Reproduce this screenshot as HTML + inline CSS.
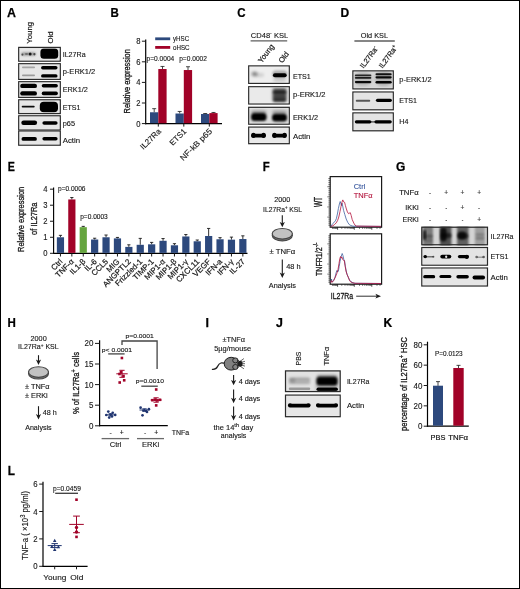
<!DOCTYPE html>
<html lang="en"><head><meta charset="utf-8"><title>Figure</title>
<style>html,body{margin:0;padding:0;background:#fff}body{width:520px;height:589px;overflow:hidden;position:relative}svg{display:block}svg text{font-family:"Liberation Sans",sans-serif;fill:#161616;stroke:#161616;stroke-width:.12px}</style></head><body>
<svg width="520" height="589" viewBox="0 0 520 589">
<defs>
<filter id="b3" x="-30%" y="-60%" width="160%" height="220%"><feGaussianBlur stdDeviation="0.3"/></filter>
<filter id="b5" x="-30%" y="-60%" width="160%" height="220%"><feGaussianBlur stdDeviation="0.5"/></filter>
<filter id="b7" x="-30%" y="-60%" width="160%" height="220%"><feGaussianBlur stdDeviation="0.7"/></filter>
<filter id="b10" x="-30%" y="-60%" width="160%" height="220%"><feGaussianBlur stdDeviation="1"/></filter>
<filter id="b14" x="-30%" y="-60%" width="160%" height="220%"><feGaussianBlur stdDeviation="1.4"/></filter>
<filter id="b20" x="-30%" y="-60%" width="160%" height="220%"><feGaussianBlur stdDeviation="2"/></filter>
</defs>
<rect x="0.00" y="0.00" width="520.00" height="589.00" fill="#fff"/>
<rect x="0.5" y="0.5" width="519" height="588" fill="none" stroke="#000" stroke-width="1"/>
<text transform="translate(7.10 16.90)" font-size="12.4" font-weight="bold" style="fill:#000;stroke:#000;stroke-width:0.25px;">A</text>
<text transform="translate(110.60 16.90) scale(0.93 1)" font-size="12.4" font-weight="bold" style="fill:#000;stroke:#000;stroke-width:0.25px;">B</text>
<text transform="translate(237.30 17.20) scale(0.93 1)" font-size="12.4" font-weight="bold" style="fill:#000;stroke:#000;stroke-width:0.25px;">C</text>
<text transform="translate(340.60 17.20) scale(0.97 1)" font-size="12.4" font-weight="bold" style="fill:#000;stroke:#000;stroke-width:0.25px;">D</text>
<text transform="translate(7.70 170.70) scale(0.86 1)" font-size="12.4" font-weight="bold" style="fill:#000;stroke:#000;stroke-width:0.25px;">E</text>
<text transform="translate(262.80 171.20) scale(0.92 1)" font-size="12.4" font-weight="bold" style="fill:#000;stroke:#000;stroke-width:0.25px;">F</text>
<text transform="translate(396.00 171.20) scale(0.97 1)" font-size="12.4" font-weight="bold" style="fill:#000;stroke:#000;stroke-width:0.25px;">G</text>
<text transform="translate(7.60 326.80) scale(0.93 1)" font-size="12.4" font-weight="bold" style="fill:#000;stroke:#000;stroke-width:0.25px;">H</text>
<text transform="translate(205.60 326.80)" font-size="12.4" font-weight="bold" style="fill:#000;stroke:#000;stroke-width:0.25px;">I</text>
<text transform="translate(276.00 326.80)" font-size="12.4" font-weight="bold" style="fill:#000;stroke:#000;stroke-width:0.25px;">J</text>
<text transform="translate(383.60 326.80) scale(0.97 1)" font-size="12.4" font-weight="bold" style="fill:#000;stroke:#000;stroke-width:0.25px;">K</text>
<text transform="translate(7.80 474.50) scale(0.95 1)" font-size="12.4" font-weight="bold" style="fill:#000;stroke:#000;stroke-width:0.25px;">L</text>
<text transform="translate(31.70 43.70) rotate(-90)" font-size="7.8" style="stroke-width:0.2px;">Young</text>
<text transform="translate(53.30 43.50) rotate(-90)" font-size="7.8" style="stroke-width:0.2px;">Old</text>
<svg x="18.10" y="46.80" width="42.80" height="15.00" viewBox="18.10 46.80 42.80 15.00">
<rect x="18.10" y="46.80" width="42.80" height="15.00" fill="#e6e6e6"/>
<rect x="21.25" y="52.60" width="14.50" height="3.00" rx="1.50" fill="#000" opacity="0.38" filter="url(#b10)"/>
<rect x="28.60" y="52.40" width="3.00" height="3.00" rx="1.50" fill="#000" opacity="0.85" filter="url(#b7)"/>
<rect x="21.40" y="53.40" width="2.00" height="2.40" rx="1.00" fill="#000" opacity="0.55" filter="url(#b7)"/>
<rect x="33.30" y="53.00" width="2.20" height="2.40" rx="1.10" fill="#000" opacity="0.6" filter="url(#b7)"/>
<rect x="25.00" y="53.00" width="3.00" height="2.00" rx="1.00" fill="#000" opacity="0.3" filter="url(#b7)"/>
<rect x="40.40" y="48.60" width="17.80" height="10.20" rx="3.50" fill="#000" opacity="1" filter="url(#b7)"/>
</svg>
<rect x="18.72" y="47.42" width="41.55" height="13.75" fill="none" stroke="#2b2b2b" stroke-width="1.25"/>
<rect x="19.65" y="48.35" width="39.70" height="11.90" fill="none" stroke="#f4f4f4" stroke-width="0.6" opacity="0.45"/>
<svg x="18.10" y="63.10" width="42.80" height="16.90" viewBox="18.10 63.10 42.80 16.90">
<rect x="18.10" y="63.10" width="42.80" height="16.90" fill="#e6e6e6"/>
<rect x="22.00" y="66.60" width="13.00" height="1.60" rx="0.80" fill="#000" opacity="0.28" filter="url(#b7)"/>
<rect x="22.00" y="74.40" width="13.00" height="1.80" rx="0.90" fill="#000" opacity="0.32" filter="url(#b7)"/>
<rect x="41.05" y="66.00" width="16.50" height="3.60" rx="1.80" fill="#000" opacity="1" filter="url(#b5)"/>
<rect x="41.05" y="74.20" width="16.50" height="3.40" rx="1.70" fill="#000" opacity="1" filter="url(#b5)"/>
</svg>
<rect x="18.72" y="63.72" width="41.55" height="15.65" fill="none" stroke="#2b2b2b" stroke-width="1.25"/>
<rect x="19.65" y="64.65" width="39.70" height="13.80" fill="none" stroke="#f4f4f4" stroke-width="0.6" opacity="0.45"/>
<svg x="18.10" y="81.10" width="42.80" height="16.90" viewBox="18.10 81.10 42.80 16.90">
<rect x="18.10" y="81.10" width="42.80" height="16.90" fill="#e6e6e6"/>
<rect x="20.20" y="83.70" width="16.80" height="4.40" rx="2.20" fill="#000" opacity="1" filter="url(#b7)"/>
<rect x="20.20" y="91.20" width="16.80" height="4.40" rx="2.20" fill="#000" opacity="1" filter="url(#b7)"/>
<rect x="41.70" y="84.00" width="16.20" height="3.60" rx="1.80" fill="#000" opacity="1" filter="url(#b7)"/>
<rect x="41.70" y="91.60" width="16.20" height="3.60" rx="1.80" fill="#000" opacity="1" filter="url(#b7)"/>
</svg>
<rect x="18.72" y="81.72" width="41.55" height="15.65" fill="none" stroke="#2b2b2b" stroke-width="1.25"/>
<rect x="19.65" y="82.65" width="39.70" height="13.80" fill="none" stroke="#f4f4f4" stroke-width="0.6" opacity="0.45"/>
<svg x="18.10" y="99.20" width="42.80" height="15.00" viewBox="18.10 99.20 42.80 15.00">
<rect x="18.10" y="99.20" width="42.80" height="15.00" fill="#e6e6e6"/>
<rect x="21.70" y="105.75" width="13.00" height="1.70" rx="0.85" fill="#000" opacity="0.95" filter="url(#b5)"/>
<rect x="39.80" y="101.70" width="18.20" height="10.60" rx="4.00" fill="#000" opacity="1" filter="url(#b7)"/>
</svg>
<rect x="18.72" y="99.82" width="41.55" height="13.75" fill="none" stroke="#2b2b2b" stroke-width="1.25"/>
<rect x="19.65" y="100.75" width="39.70" height="11.90" fill="none" stroke="#f4f4f4" stroke-width="0.6" opacity="0.45"/>
<svg x="18.10" y="115.20" width="42.80" height="15.40" viewBox="18.10 115.20 42.80 15.40">
<rect x="18.10" y="115.20" width="42.80" height="15.40" fill="#e6e6e6"/>
<rect x="21.30" y="120.50" width="15.80" height="4.60" rx="2.30" fill="#000" opacity="1" filter="url(#b7)"/>
<rect x="42.40" y="121.20" width="15.20" height="3.60" rx="1.80" fill="#000" opacity="1" filter="url(#b7)"/>
</svg>
<rect x="18.72" y="115.82" width="41.55" height="14.15" fill="none" stroke="#2b2b2b" stroke-width="1.25"/>
<rect x="19.65" y="116.75" width="39.70" height="12.30" fill="none" stroke="#f4f4f4" stroke-width="0.6" opacity="0.45"/>
<svg x="18.10" y="130.40" width="42.80" height="15.40" viewBox="18.10 130.40 42.80 15.40">
<rect x="18.10" y="130.40" width="42.80" height="15.40" fill="#e6e6e6"/>
<rect x="21.50" y="137.00" width="15.40" height="3.80" rx="1.90" fill="#000" opacity="1" filter="url(#b7)"/>
<rect x="42.40" y="137.10" width="15.20" height="3.40" rx="1.70" fill="#000" opacity="1" filter="url(#b7)"/>
</svg>
<rect x="18.72" y="131.02" width="41.55" height="14.15" fill="none" stroke="#2b2b2b" stroke-width="1.25"/>
<rect x="19.65" y="131.95" width="39.70" height="12.30" fill="none" stroke="#f4f4f4" stroke-width="0.6" opacity="0.45"/>
<text transform="translate(62.70 56.80)" font-size="7.1">IL27Ra</text>
<text transform="translate(62.70 73.70) scale(1.06 1)" font-size="7.1">p-ERK1/2</text>
<text transform="translate(62.70 91.90) scale(1.03 1)" font-size="7.1">ERK1/2</text>
<text transform="translate(62.70 109.70)" font-size="7.1">ETS1</text>
<text transform="translate(62.70 125.60) scale(1.04 1)" font-size="7.1">p65</text>
<text transform="translate(62.70 143.00) scale(1.1 1)" font-size="7.1">Actin</text>
<line x1="145.70" y1="39.50" x2="145.70" y2="124.20" stroke="#000" stroke-width="1.2"/>
<line x1="145.10" y1="123.60" x2="222.00" y2="123.60" stroke="#000" stroke-width="1.2"/>
<line x1="141.90" y1="123.60" x2="145.70" y2="123.60" stroke="#1a1a1a" stroke-width="1"/>
<text transform="translate(140.60 126.60) scale(0.9 1)" font-size="8.5" text-anchor="end">0</text>
<line x1="141.90" y1="103.00" x2="145.70" y2="103.00" stroke="#1a1a1a" stroke-width="1"/>
<text transform="translate(140.60 106.00) scale(0.9 1)" font-size="8.5" text-anchor="end">2</text>
<line x1="141.90" y1="82.40" x2="145.70" y2="82.40" stroke="#1a1a1a" stroke-width="1"/>
<text transform="translate(140.60 85.40) scale(0.9 1)" font-size="8.5" text-anchor="end">4</text>
<line x1="141.90" y1="61.80" x2="145.70" y2="61.80" stroke="#1a1a1a" stroke-width="1"/>
<text transform="translate(140.60 64.80) scale(0.9 1)" font-size="8.5" text-anchor="end">6</text>
<line x1="141.90" y1="41.20" x2="145.70" y2="41.20" stroke="#1a1a1a" stroke-width="1"/>
<text transform="translate(140.60 44.20) scale(0.9 1)" font-size="8.5" text-anchor="end">8</text>
<line x1="154.20" y1="108.66" x2="154.20" y2="112.27" stroke="#1a1a1a" stroke-width="0.8"/>
<line x1="152.20" y1="108.66" x2="156.20" y2="108.66" stroke="#1a1a1a" stroke-width="0.8"/>
<line x1="162.50" y1="66.44" x2="162.50" y2="69.01" stroke="#1a1a1a" stroke-width="0.8"/>
<line x1="160.50" y1="66.44" x2="164.50" y2="66.44" stroke="#1a1a1a" stroke-width="0.8"/>
<rect x="150.00" y="112.27" width="8.30" height="10.93" fill="#2d497d"/>
<rect x="158.30" y="69.01" width="8.30" height="54.19" fill="#a10228"/>
<line x1="158.30" y1="123.60" x2="158.30" y2="126.60" stroke="#1a1a1a" stroke-width="1"/>
<line x1="179.70" y1="111.45" x2="179.70" y2="113.51" stroke="#1a1a1a" stroke-width="0.8"/>
<line x1="177.70" y1="111.45" x2="181.70" y2="111.45" stroke="#1a1a1a" stroke-width="0.8"/>
<line x1="188.00" y1="66.74" x2="188.00" y2="70.04" stroke="#1a1a1a" stroke-width="0.8"/>
<line x1="186.00" y1="66.74" x2="190.00" y2="66.74" stroke="#1a1a1a" stroke-width="0.8"/>
<rect x="175.50" y="113.51" width="8.30" height="9.69" fill="#2d497d"/>
<rect x="183.80" y="70.04" width="8.30" height="53.16" fill="#a10228"/>
<line x1="183.80" y1="123.60" x2="183.80" y2="126.60" stroke="#1a1a1a" stroke-width="1"/>
<line x1="205.20" y1="113.51" x2="205.20" y2="114.02" stroke="#1a1a1a" stroke-width="0.8"/>
<line x1="203.20" y1="113.51" x2="207.20" y2="113.51" stroke="#1a1a1a" stroke-width="0.8"/>
<line x1="213.50" y1="112.48" x2="213.50" y2="113.09" stroke="#1a1a1a" stroke-width="0.8"/>
<line x1="211.50" y1="112.48" x2="215.50" y2="112.48" stroke="#1a1a1a" stroke-width="0.8"/>
<rect x="201.00" y="114.02" width="8.30" height="9.18" fill="#2d497d"/>
<rect x="209.30" y="113.09" width="8.30" height="10.11" fill="#a10228"/>
<line x1="209.30" y1="123.60" x2="209.30" y2="126.60" stroke="#1a1a1a" stroke-width="1"/>
<rect x="155.20" y="37.40" width="15.00" height="2.80" fill="#2d497d"/>
<text transform="translate(173.00 41.20) scale(0.94 1)" font-size="6.6">yHSC</text>
<rect x="155.20" y="46.00" width="15.00" height="2.80" fill="#a10228"/>
<text transform="translate(173.00 49.80) scale(0.94 1)" font-size="6.6">oHSC</text>
<text transform="translate(146.60 61.30)" font-size="6.6">p=0.0004</text>
<text transform="translate(179.20 61.30)" font-size="6.6">p=0.0002</text>
<text transform="translate(130.00 81.30) rotate(-90) scale(0.855 1)" font-size="8.6" text-anchor="middle" style="stroke-width:0.3px;">Relative expression</text>
<text transform="translate(161.60 131.80) rotate(-45)" font-size="8" text-anchor="end">IL27Ra</text>
<text transform="translate(187.00 131.80) rotate(-45)" font-size="8" text-anchor="end">ETS1</text>
<text transform="translate(212.60 131.80) rotate(-45) scale(1.09 1)" font-size="8" text-anchor="end">NF-kB p65</text>
<text transform="translate(250.80 37.80) scale(1.02 1)" font-size="7.4">CD48<tspan dy="-2.6" font-size="5">-</tspan><tspan dy="2.6"> KSL</tspan></text>
<line x1="250.60" y1="40.90" x2="287.20" y2="40.90" stroke="#5e5e5e" stroke-width="1.4"/>
<text transform="translate(261.70 63.60) rotate(-53)" font-size="7.6" style="stroke-width:0.2px;">Young</text>
<text transform="translate(282.20 63.60) rotate(-53)" font-size="7.6" style="stroke-width:0.2px;">Old</text>
<svg x="248.10" y="65.30" width="41.80" height="18.70" viewBox="248.10 65.30 41.80 18.70">
<rect x="248.10" y="65.30" width="41.80" height="18.70" fill="#eeeeee"/>
<rect x="251.50" y="71.80" width="6.00" height="4.40" rx="2.20" fill="#000" opacity="0.42" filter="url(#b14)"/>
<rect x="255.00" y="73.30" width="9.00" height="3.40" rx="1.70" fill="#000" opacity="0.14" filter="url(#b14)"/>
<rect x="272.90" y="73.30" width="13.80" height="4.00" rx="2.00" fill="#000" opacity="1" filter="url(#b7)"/>
<rect x="272.30" y="70.50" width="15.00" height="7.00" rx="3.50" fill="#000" opacity="0.28" filter="url(#b10)"/>
<rect x="273.30" y="77.00" width="13.00" height="5.00" rx="2.50" fill="#000" opacity="0.14" filter="url(#b14)"/>
</svg>
<rect x="248.72" y="65.92" width="40.55" height="17.45" fill="none" stroke="#2b2b2b" stroke-width="1.25"/>
<rect x="249.65" y="66.85" width="38.70" height="15.60" fill="none" stroke="#f4f4f4" stroke-width="0.6" opacity="0.45"/>
<svg x="248.10" y="86.10" width="41.80" height="18.50" viewBox="248.10 86.10 41.80 18.50">
<rect x="248.10" y="86.10" width="41.80" height="18.50" fill="#eaeaea"/>
<rect x="272.60" y="88.00" width="14.00" height="14.00" rx="2.00" fill="#000" opacity="0.6" filter="url(#b14)"/>
<rect x="272.85" y="90.30" width="13.50" height="4.00" rx="2.00" fill="#000" opacity="0.6" filter="url(#b10)"/>
<rect x="273.10" y="95.10" width="13.00" height="2.60" rx="1.30" fill="#000" opacity="0.35" filter="url(#b10)"/>
<rect x="273.10" y="98.10" width="13.00" height="3.40" rx="1.70" fill="#000" opacity="0.55" filter="url(#b10)"/>
</svg>
<rect x="248.72" y="86.72" width="40.55" height="17.25" fill="none" stroke="#2b2b2b" stroke-width="1.25"/>
<rect x="249.65" y="87.65" width="38.70" height="15.40" fill="none" stroke="#f4f4f4" stroke-width="0.6" opacity="0.45"/>
<svg x="248.10" y="106.70" width="41.80" height="18.10" viewBox="248.10 106.70 41.80 18.10">
<rect x="248.10" y="106.70" width="41.80" height="18.10" fill="#dcdcdc"/>
<rect x="251.05" y="112.90" width="15.50" height="8.20" rx="3.50" fill="#000" opacity="1" filter="url(#b10)"/>
<rect x="272.00" y="113.80" width="15.00" height="7.60" rx="3.50" fill="#000" opacity="1" filter="url(#b10)"/>
<rect x="251.30" y="110.40" width="15.00" height="4.00" rx="2.00" fill="#000" opacity="0.3" filter="url(#b14)"/>
<rect x="272.25" y="110.60" width="14.50" height="4.00" rx="2.00" fill="#000" opacity="0.3" filter="url(#b14)"/>
</svg>
<rect x="248.72" y="107.32" width="40.55" height="16.85" fill="none" stroke="#2b2b2b" stroke-width="1.25"/>
<rect x="249.65" y="108.25" width="38.70" height="15.00" fill="none" stroke="#f4f4f4" stroke-width="0.6" opacity="0.45"/>
<svg x="248.10" y="126.50" width="41.80" height="17.80" viewBox="248.10 126.50 41.80 17.80">
<rect x="248.10" y="126.50" width="41.80" height="17.80" fill="#e9e9e9"/>
<rect x="251.10" y="133.70" width="14.80" height="3.80" rx="1.90" fill="#000" opacity="1" filter="url(#b7)"/>
<rect x="272.30" y="133.70" width="14.40" height="3.80" rx="1.90" fill="#000" opacity="1" filter="url(#b7)"/>
<rect x="251.20" y="132.70" width="4.40" height="5.20" rx="2.20" fill="#000" opacity="1" filter="url(#b7)"/>
<rect x="261.40" y="132.70" width="4.40" height="5.20" rx="2.20" fill="#000" opacity="1" filter="url(#b7)"/>
<rect x="272.20" y="132.70" width="4.40" height="5.20" rx="2.20" fill="#000" opacity="1" filter="url(#b7)"/>
<rect x="282.40" y="132.70" width="4.40" height="5.20" rx="2.20" fill="#000" opacity="1" filter="url(#b7)"/>
</svg>
<rect x="248.72" y="127.12" width="40.55" height="16.55" fill="none" stroke="#2b2b2b" stroke-width="1.25"/>
<rect x="249.65" y="128.05" width="38.70" height="14.70" fill="none" stroke="#f4f4f4" stroke-width="0.6" opacity="0.45"/>
<text transform="translate(293.00 78.60)" font-size="7.1">ETS1</text>
<text transform="translate(293.00 97.10) scale(1.06 1)" font-size="7.1">p-ERK1/2</text>
<text transform="translate(293.00 120.30) scale(1.03 1)" font-size="7.1">ERK1/2</text>
<text transform="translate(293.00 138.90) scale(1.1 1)" font-size="7.1">Actin</text>
<text transform="translate(360.80 37.80)" font-size="7.3">Old KSL</text>
<line x1="354.40" y1="41.00" x2="394.80" y2="41.00" stroke="#5e5e5e" stroke-width="1.4"/>
<text transform="translate(363.60 68.80) rotate(-54) scale(0.98 1)" font-size="7.4" style="stroke-width:0.2px;">IL27Ra<tspan dy="-2.6" font-size="5.4">-</tspan></text>
<text transform="translate(382.40 68.80) rotate(-54) scale(0.98 1)" font-size="7.4" style="stroke-width:0.2px;">IL27Ra<tspan dy="-2.6" font-size="5.4">+</tspan></text>
<svg x="352.30" y="70.30" width="41.60" height="19.20" viewBox="352.30 70.30 41.60 19.20">
<rect x="352.30" y="70.30" width="41.60" height="19.20" fill="#d6d6d6"/>
<rect x="354.25" y="72.00" width="17.50" height="14.00" rx="7.00" fill="#000" opacity="0.14" filter="url(#b14)"/>
<rect x="374.85" y="71.00" width="17.50" height="15.00" rx="7.50" fill="#000" opacity="0.18" filter="url(#b14)"/>
<rect x="354.85" y="74.55" width="16.50" height="1.70" rx="0.85" fill="#000" opacity="0.8" filter="url(#b7)"/>
<rect x="354.85" y="76.95" width="16.50" height="1.70" rx="0.85" fill="#000" opacity="0.85" filter="url(#b7)"/>
<rect x="354.85" y="81.00" width="16.50" height="2.20" rx="1.10" fill="#000" opacity="0.95" filter="url(#b7)"/>
<rect x="375.50" y="73.20" width="16.20" height="2.00" rx="1.00" fill="#000" opacity="0.9" filter="url(#b7)"/>
<rect x="375.50" y="76.20" width="16.20" height="2.20" rx="1.10" fill="#000" opacity="0.95" filter="url(#b7)"/>
<rect x="375.50" y="81.00" width="16.20" height="2.60" rx="1.30" fill="#000" opacity="1" filter="url(#b7)"/>
</svg>
<rect x="352.92" y="70.92" width="40.35" height="17.95" fill="none" stroke="#2b2b2b" stroke-width="1.25"/>
<rect x="353.85" y="71.85" width="38.50" height="16.10" fill="none" stroke="#f4f4f4" stroke-width="0.6" opacity="0.45"/>
<svg x="352.30" y="91.40" width="41.60" height="19.00" viewBox="352.30 91.40 41.60 19.00">
<rect x="352.30" y="91.40" width="41.60" height="19.00" fill="#e4e4e4"/>
<rect x="355.75" y="99.75" width="14.50" height="1.90" rx="0.95" fill="#000" opacity="0.62" filter="url(#b7)"/>
<rect x="375.90" y="98.70" width="16.00" height="3.20" rx="1.60" fill="#000" opacity="1" filter="url(#b7)"/>
</svg>
<rect x="352.92" y="92.02" width="40.35" height="17.75" fill="none" stroke="#2b2b2b" stroke-width="1.25"/>
<rect x="353.85" y="92.95" width="38.50" height="15.90" fill="none" stroke="#f4f4f4" stroke-width="0.6" opacity="0.45"/>
<svg x="352.30" y="112.30" width="41.60" height="19.10" viewBox="352.30 112.30 41.60 19.10">
<rect x="352.30" y="112.30" width="41.60" height="19.10" fill="#e4e4e4"/>
<rect x="354.80" y="120.20" width="16.60" height="3.20" rx="1.60" fill="#000" opacity="1" filter="url(#b7)"/>
<rect x="374.40" y="120.20" width="17.40" height="3.20" rx="1.60" fill="#000" opacity="1" filter="url(#b7)"/>
<rect x="370.50" y="121.10" width="5.00" height="1.60" rx="0.80" fill="#000" opacity="0.5" filter="url(#b7)"/>
</svg>
<rect x="352.92" y="112.92" width="40.35" height="17.85" fill="none" stroke="#2b2b2b" stroke-width="1.25"/>
<rect x="353.85" y="113.85" width="38.50" height="16.00" fill="none" stroke="#f4f4f4" stroke-width="0.6" opacity="0.45"/>
<text transform="translate(399.30 82.20) scale(1.05 1)" font-size="7.1">p-ERK1/2</text>
<text transform="translate(399.30 103.30)" font-size="7.1">ETS1</text>
<text transform="translate(399.30 124.20)" font-size="7.1">H4</text>
<line x1="53.60" y1="187.50" x2="53.60" y2="253.90" stroke="#000" stroke-width="1.15"/>
<line x1="53.00" y1="253.30" x2="247.50" y2="253.30" stroke="#000" stroke-width="1.15"/>
<line x1="50.00" y1="253.30" x2="53.60" y2="253.30" stroke="#1a1a1a" stroke-width="1"/>
<text transform="translate(47.60 256.30) scale(0.9 1)" font-size="8.5" text-anchor="end">0</text>
<line x1="50.00" y1="237.27" x2="53.60" y2="237.27" stroke="#1a1a1a" stroke-width="1"/>
<text transform="translate(47.60 240.27) scale(0.9 1)" font-size="8.5" text-anchor="end">1</text>
<line x1="50.00" y1="221.24" x2="53.60" y2="221.24" stroke="#1a1a1a" stroke-width="1"/>
<text transform="translate(47.60 224.24) scale(0.9 1)" font-size="8.5" text-anchor="end">2</text>
<line x1="50.00" y1="205.21" x2="53.60" y2="205.21" stroke="#1a1a1a" stroke-width="1"/>
<text transform="translate(47.60 208.21) scale(0.9 1)" font-size="8.5" text-anchor="end">3</text>
<line x1="50.00" y1="189.18" x2="53.60" y2="189.18" stroke="#1a1a1a" stroke-width="1"/>
<text transform="translate(47.60 192.18) scale(0.9 1)" font-size="8.5" text-anchor="end">4</text>
<line x1="60.45" y1="235.35" x2="60.45" y2="237.27" stroke="#1a1a1a" stroke-width="0.9"/>
<line x1="58.85" y1="235.35" x2="62.05" y2="235.35" stroke="#1a1a1a" stroke-width="0.9"/>
<rect x="56.85" y="237.27" width="7.20" height="15.63" fill="#2d497d"/>
<line x1="60.45" y1="253.30" x2="60.45" y2="256.50" stroke="#1a1a1a" stroke-width="1"/>
<text transform="translate(63.05 262.10) rotate(-45)" font-size="7.9" text-anchor="end" style="stroke-width:0.2px;">Ctrl</text>
<line x1="71.85" y1="197.52" x2="71.85" y2="199.44" stroke="#1a1a1a" stroke-width="0.9"/>
<line x1="70.25" y1="197.52" x2="73.45" y2="197.52" stroke="#1a1a1a" stroke-width="0.9"/>
<rect x="68.25" y="199.44" width="7.20" height="53.46" fill="#a10228"/>
<line x1="71.85" y1="253.30" x2="71.85" y2="256.50" stroke="#1a1a1a" stroke-width="1"/>
<text transform="translate(74.45 262.10) rotate(-45)" font-size="7.9" text-anchor="end" style="stroke-width:0.2px;">TNF-α</text>
<line x1="83.25" y1="226.37" x2="83.25" y2="227.17" stroke="#1a1a1a" stroke-width="0.9"/>
<line x1="81.65" y1="226.37" x2="84.85" y2="226.37" stroke="#1a1a1a" stroke-width="0.9"/>
<rect x="79.65" y="227.17" width="7.20" height="25.73" fill="#66a53f"/>
<line x1="83.25" y1="253.30" x2="83.25" y2="256.50" stroke="#1a1a1a" stroke-width="1"/>
<text transform="translate(85.85 262.10) rotate(-45)" font-size="7.9" text-anchor="end" style="stroke-width:0.2px;">IL1-β</text>
<line x1="94.65" y1="238.23" x2="94.65" y2="239.51" stroke="#1a1a1a" stroke-width="0.9"/>
<line x1="93.05" y1="238.23" x2="96.25" y2="238.23" stroke="#1a1a1a" stroke-width="0.9"/>
<rect x="91.05" y="239.51" width="7.20" height="13.39" fill="#2d497d"/>
<line x1="94.65" y1="253.30" x2="94.65" y2="256.50" stroke="#1a1a1a" stroke-width="1"/>
<text transform="translate(97.25 262.10) rotate(-45)" font-size="7.9" text-anchor="end" style="stroke-width:0.2px;">IL-6</text>
<line x1="106.05" y1="235.03" x2="106.05" y2="237.27" stroke="#1a1a1a" stroke-width="0.9"/>
<line x1="104.45" y1="235.03" x2="107.65" y2="235.03" stroke="#1a1a1a" stroke-width="0.9"/>
<rect x="102.45" y="237.27" width="7.20" height="15.63" fill="#2d497d"/>
<line x1="106.05" y1="253.30" x2="106.05" y2="256.50" stroke="#1a1a1a" stroke-width="1"/>
<text transform="translate(108.65 262.10) rotate(-45)" font-size="7.9" text-anchor="end" style="stroke-width:0.2px;">CCL5</text>
<line x1="117.45" y1="237.43" x2="117.45" y2="238.39" stroke="#1a1a1a" stroke-width="0.9"/>
<line x1="115.85" y1="237.43" x2="119.05" y2="237.43" stroke="#1a1a1a" stroke-width="0.9"/>
<rect x="113.85" y="238.39" width="7.20" height="14.51" fill="#2d497d"/>
<line x1="117.45" y1="253.30" x2="117.45" y2="256.50" stroke="#1a1a1a" stroke-width="1"/>
<text transform="translate(120.05 262.10) rotate(-45)" font-size="7.9" text-anchor="end" style="stroke-width:0.2px;">MIG</text>
<line x1="128.85" y1="244.80" x2="128.85" y2="246.89" stroke="#1a1a1a" stroke-width="0.9"/>
<line x1="127.25" y1="244.80" x2="130.45" y2="244.80" stroke="#1a1a1a" stroke-width="0.9"/>
<rect x="125.25" y="246.89" width="7.20" height="6.01" fill="#2d497d"/>
<line x1="128.85" y1="253.30" x2="128.85" y2="256.50" stroke="#1a1a1a" stroke-width="1"/>
<text transform="translate(131.45 262.10) rotate(-45)" font-size="7.9" text-anchor="end" style="stroke-width:0.2px;">ANGPTL2</text>
<line x1="140.25" y1="238.39" x2="140.25" y2="244.80" stroke="#1a1a1a" stroke-width="0.9"/>
<line x1="138.65" y1="238.39" x2="141.85" y2="238.39" stroke="#1a1a1a" stroke-width="0.9"/>
<rect x="136.65" y="244.80" width="7.20" height="8.10" fill="#2d497d"/>
<line x1="140.25" y1="253.30" x2="140.25" y2="256.50" stroke="#1a1a1a" stroke-width="1"/>
<text transform="translate(142.85 262.10) rotate(-45)" font-size="7.9" text-anchor="end" style="stroke-width:0.2px;">Frizzled-1</text>
<line x1="151.65" y1="242.40" x2="151.65" y2="244.32" stroke="#1a1a1a" stroke-width="0.9"/>
<line x1="150.05" y1="242.40" x2="153.25" y2="242.40" stroke="#1a1a1a" stroke-width="0.9"/>
<rect x="148.05" y="244.32" width="7.20" height="8.58" fill="#2d497d"/>
<line x1="151.65" y1="253.30" x2="151.65" y2="256.50" stroke="#1a1a1a" stroke-width="1"/>
<text transform="translate(154.25 262.10) rotate(-45)" font-size="7.9" text-anchor="end" style="stroke-width:0.2px;">TIMP-1</text>
<line x1="163.05" y1="238.55" x2="163.05" y2="240.80" stroke="#1a1a1a" stroke-width="0.9"/>
<line x1="161.45" y1="238.55" x2="164.65" y2="238.55" stroke="#1a1a1a" stroke-width="0.9"/>
<rect x="159.45" y="240.80" width="7.20" height="12.10" fill="#2d497d"/>
<line x1="163.05" y1="253.30" x2="163.05" y2="256.50" stroke="#1a1a1a" stroke-width="1"/>
<text transform="translate(165.65 262.10) rotate(-45)" font-size="7.9" text-anchor="end" style="stroke-width:0.2px;">MIP1-α</text>
<line x1="174.45" y1="243.68" x2="174.45" y2="245.29" stroke="#1a1a1a" stroke-width="0.9"/>
<line x1="172.85" y1="243.68" x2="176.05" y2="243.68" stroke="#1a1a1a" stroke-width="0.9"/>
<rect x="170.85" y="245.29" width="7.20" height="7.61" fill="#2d497d"/>
<line x1="174.45" y1="253.30" x2="174.45" y2="256.50" stroke="#1a1a1a" stroke-width="1"/>
<text transform="translate(177.05 262.10) rotate(-45)" font-size="7.9" text-anchor="end" style="stroke-width:0.2px;">MIP1-β</text>
<line x1="185.85" y1="234.54" x2="185.85" y2="236.47" stroke="#1a1a1a" stroke-width="0.9"/>
<line x1="184.25" y1="234.54" x2="187.45" y2="234.54" stroke="#1a1a1a" stroke-width="0.9"/>
<rect x="182.25" y="236.47" width="7.20" height="16.43" fill="#2d497d"/>
<line x1="185.85" y1="253.30" x2="185.85" y2="256.50" stroke="#1a1a1a" stroke-width="1"/>
<text transform="translate(188.45 262.10) rotate(-45)" font-size="7.9" text-anchor="end" style="stroke-width:0.2px;">MIP1-γ</text>
<line x1="197.25" y1="240.00" x2="197.25" y2="241.28" stroke="#1a1a1a" stroke-width="0.9"/>
<line x1="195.65" y1="240.00" x2="198.85" y2="240.00" stroke="#1a1a1a" stroke-width="0.9"/>
<rect x="193.65" y="241.28" width="7.20" height="11.62" fill="#2d497d"/>
<line x1="197.25" y1="253.30" x2="197.25" y2="256.50" stroke="#1a1a1a" stroke-width="1"/>
<text transform="translate(199.85 262.10) rotate(-45)" font-size="7.9" text-anchor="end" style="stroke-width:0.2px;">CXCL11</text>
<line x1="208.65" y1="228.45" x2="208.65" y2="235.99" stroke="#1a1a1a" stroke-width="0.9"/>
<line x1="207.05" y1="228.45" x2="210.25" y2="228.45" stroke="#1a1a1a" stroke-width="0.9"/>
<rect x="205.05" y="235.99" width="7.20" height="16.91" fill="#2d497d"/>
<line x1="208.65" y1="253.30" x2="208.65" y2="256.50" stroke="#1a1a1a" stroke-width="1"/>
<text transform="translate(211.25 262.10) rotate(-45)" font-size="7.9" text-anchor="end" style="stroke-width:0.2px;">VEGF</text>
<line x1="220.05" y1="237.67" x2="220.05" y2="239.27" stroke="#1a1a1a" stroke-width="0.9"/>
<line x1="218.45" y1="237.67" x2="221.65" y2="237.67" stroke="#1a1a1a" stroke-width="0.9"/>
<rect x="216.45" y="239.27" width="7.20" height="13.63" fill="#2d497d"/>
<line x1="220.05" y1="253.30" x2="220.05" y2="256.50" stroke="#1a1a1a" stroke-width="1"/>
<text transform="translate(222.65 262.10) rotate(-45)" font-size="7.9" text-anchor="end" style="stroke-width:0.2px;">IFN-a</text>
<line x1="231.45" y1="237.11" x2="231.45" y2="239.67" stroke="#1a1a1a" stroke-width="0.9"/>
<line x1="229.85" y1="237.11" x2="233.05" y2="237.11" stroke="#1a1a1a" stroke-width="0.9"/>
<rect x="227.85" y="239.67" width="7.20" height="13.23" fill="#2d497d"/>
<line x1="231.45" y1="253.30" x2="231.45" y2="256.50" stroke="#1a1a1a" stroke-width="1"/>
<text transform="translate(234.05 262.10) rotate(-45)" font-size="7.9" text-anchor="end" style="stroke-width:0.2px;">IFN-γ</text>
<line x1="242.85" y1="235.83" x2="242.85" y2="239.03" stroke="#1a1a1a" stroke-width="0.9"/>
<line x1="241.25" y1="235.83" x2="244.45" y2="235.83" stroke="#1a1a1a" stroke-width="0.9"/>
<rect x="239.25" y="239.03" width="7.20" height="13.87" fill="#2d497d"/>
<line x1="242.85" y1="253.30" x2="242.85" y2="256.50" stroke="#1a1a1a" stroke-width="1"/>
<text transform="translate(245.45 262.10) rotate(-45)" font-size="7.9" text-anchor="end" style="stroke-width:0.2px;">IL-27</text>
<text transform="translate(58.00 190.60) scale(1.01 1)" font-size="6.5">p=0.0006</text>
<text transform="translate(80.20 219.10) scale(1.01 1)" font-size="6.5">p=0.0003</text>
<text transform="translate(24.10 219.40) rotate(-90) scale(0.87 1)" font-size="8.6" text-anchor="middle" style="stroke-width:0.3px;">Relative expression</text>
<text transform="translate(37.20 218.70) rotate(-90) scale(0.87 1)" font-size="8.6" text-anchor="middle" style="stroke-width:0.3px;">of IL27Ra</text>
<text transform="translate(282.30 202.30) scale(1.02 1)" font-size="7.1" text-anchor="middle">2000</text>
<text transform="translate(282.60 211.80) scale(0.97 1)" font-size="7" text-anchor="middle">IL27Ra<tspan dy="-2.4" font-size="4.5">+</tspan><tspan dy="2.4"> KSL</tspan></text>
<line x1="282.30" y1="215.20" x2="282.30" y2="223.70" stroke="#1a1a1a" stroke-width="1.1"/>
<path d="M282.30 227.30 L279.70 221.90 L282.30 223.30 L284.90 221.90 Z" fill="#1a1a1a"/>
<ellipse cx="282.30" cy="235.30" rx="10.10" ry="5.50" fill="#7d7d7d" stroke="#454545" stroke-width="1.15"/>
<ellipse cx="282.30" cy="233.80" rx="10.10" ry="5.30" fill="#c2c2c2" stroke="#454545" stroke-width="1.15"/>
<text transform="translate(282.40 254.00) scale(1.09 1)" font-size="7.1" text-anchor="middle">± TNFα</text>
<line x1="282.30" y1="259.60" x2="282.30" y2="274.40" stroke="#1a1a1a" stroke-width="1.1"/>
<path d="M282.30 278.00 L279.70 272.60 L282.30 274.00 L284.90 272.60 Z" fill="#1a1a1a"/>
<text transform="translate(286.20 269.00) scale(1.04 1)" font-size="7.1">48 h</text>
<text transform="translate(282.40 287.80) scale(1.03 1)" font-size="7.1" text-anchor="middle">Analysis</text>
<rect x="330.20" y="176.60" width="51.40" height="50.60" fill="#fff" stroke="#1a1a1a" stroke-width="1.2"/>
<line x1="328.40" y1="178.62" x2="330.20" y2="178.62" stroke="#222" stroke-width="0.7"/>
<line x1="328.40" y1="180.65" x2="330.20" y2="180.65" stroke="#222" stroke-width="0.7"/>
<line x1="328.40" y1="182.67" x2="330.20" y2="182.67" stroke="#222" stroke-width="0.7"/>
<line x1="328.40" y1="184.70" x2="330.20" y2="184.70" stroke="#222" stroke-width="0.7"/>
<line x1="327.40" y1="186.72" x2="330.20" y2="186.72" stroke="#222" stroke-width="0.7"/>
<line x1="328.40" y1="188.74" x2="330.20" y2="188.74" stroke="#222" stroke-width="0.7"/>
<line x1="328.40" y1="190.77" x2="330.20" y2="190.77" stroke="#222" stroke-width="0.7"/>
<line x1="328.40" y1="192.79" x2="330.20" y2="192.79" stroke="#222" stroke-width="0.7"/>
<line x1="328.40" y1="194.82" x2="330.20" y2="194.82" stroke="#222" stroke-width="0.7"/>
<line x1="327.40" y1="196.84" x2="330.20" y2="196.84" stroke="#222" stroke-width="0.7"/>
<line x1="328.40" y1="198.86" x2="330.20" y2="198.86" stroke="#222" stroke-width="0.7"/>
<line x1="328.40" y1="200.89" x2="330.20" y2="200.89" stroke="#222" stroke-width="0.7"/>
<line x1="328.40" y1="202.91" x2="330.20" y2="202.91" stroke="#222" stroke-width="0.7"/>
<line x1="328.40" y1="204.94" x2="330.20" y2="204.94" stroke="#222" stroke-width="0.7"/>
<line x1="327.40" y1="206.96" x2="330.20" y2="206.96" stroke="#222" stroke-width="0.7"/>
<line x1="328.40" y1="208.98" x2="330.20" y2="208.98" stroke="#222" stroke-width="0.7"/>
<line x1="328.40" y1="211.01" x2="330.20" y2="211.01" stroke="#222" stroke-width="0.7"/>
<line x1="328.40" y1="213.03" x2="330.20" y2="213.03" stroke="#222" stroke-width="0.7"/>
<line x1="328.40" y1="215.06" x2="330.20" y2="215.06" stroke="#222" stroke-width="0.7"/>
<line x1="327.40" y1="217.08" x2="330.20" y2="217.08" stroke="#222" stroke-width="0.7"/>
<line x1="328.40" y1="219.10" x2="330.20" y2="219.10" stroke="#222" stroke-width="0.7"/>
<line x1="328.40" y1="221.13" x2="330.20" y2="221.13" stroke="#222" stroke-width="0.7"/>
<line x1="328.40" y1="223.15" x2="330.20" y2="223.15" stroke="#222" stroke-width="0.7"/>
<line x1="328.40" y1="225.18" x2="330.20" y2="225.18" stroke="#222" stroke-width="0.7"/>
<line x1="332.50" y1="227.20" x2="332.50" y2="228.90" stroke="#222" stroke-width="0.6"/>
<line x1="333.60" y1="227.20" x2="333.60" y2="228.90" stroke="#222" stroke-width="0.6"/>
<line x1="334.60" y1="227.20" x2="334.60" y2="228.90" stroke="#222" stroke-width="0.6"/>
<line x1="335.50" y1="227.20" x2="335.50" y2="228.90" stroke="#222" stroke-width="0.6"/>
<line x1="336.30" y1="227.20" x2="336.30" y2="228.90" stroke="#222" stroke-width="0.6"/>
<line x1="337.00" y1="227.20" x2="337.00" y2="228.90" stroke="#222" stroke-width="0.6"/>
<line x1="341.80" y1="227.20" x2="341.80" y2="228.90" stroke="#222" stroke-width="0.6"/>
<line x1="345.00" y1="227.20" x2="345.00" y2="228.90" stroke="#222" stroke-width="0.6"/>
<line x1="347.20" y1="227.20" x2="347.20" y2="228.90" stroke="#222" stroke-width="0.6"/>
<line x1="349.00" y1="227.20" x2="349.00" y2="228.90" stroke="#222" stroke-width="0.6"/>
<line x1="350.40" y1="227.20" x2="350.40" y2="228.90" stroke="#222" stroke-width="0.6"/>
<line x1="351.60" y1="227.20" x2="351.60" y2="228.90" stroke="#222" stroke-width="0.6"/>
<line x1="352.60" y1="227.20" x2="352.60" y2="228.90" stroke="#222" stroke-width="0.6"/>
<line x1="353.50" y1="227.20" x2="353.50" y2="228.90" stroke="#222" stroke-width="0.6"/>
<line x1="359.50" y1="227.20" x2="359.50" y2="228.90" stroke="#222" stroke-width="0.6"/>
<line x1="362.60" y1="227.20" x2="362.60" y2="228.90" stroke="#222" stroke-width="0.6"/>
<line x1="364.80" y1="227.20" x2="364.80" y2="228.90" stroke="#222" stroke-width="0.6"/>
<line x1="366.60" y1="227.20" x2="366.60" y2="228.90" stroke="#222" stroke-width="0.6"/>
<line x1="368.00" y1="227.20" x2="368.00" y2="228.90" stroke="#222" stroke-width="0.6"/>
<line x1="369.20" y1="227.20" x2="369.20" y2="228.90" stroke="#222" stroke-width="0.6"/>
<line x1="370.20" y1="227.20" x2="370.20" y2="228.90" stroke="#222" stroke-width="0.6"/>
<line x1="371.00" y1="227.20" x2="371.00" y2="228.90" stroke="#222" stroke-width="0.6"/>
<line x1="377.00" y1="227.20" x2="377.00" y2="228.90" stroke="#222" stroke-width="0.6"/>
<line x1="380.00" y1="227.20" x2="380.00" y2="228.90" stroke="#222" stroke-width="0.6"/>
<line x1="337.60" y1="227.20" x2="337.60" y2="229.80" stroke="#111" stroke-width="0.7"/>
<line x1="354.30" y1="227.20" x2="354.30" y2="229.80" stroke="#111" stroke-width="0.7"/>
<line x1="371.80" y1="227.20" x2="371.80" y2="229.80" stroke="#111" stroke-width="0.7"/>
<rect x="330.20" y="233.80" width="51.40" height="50.40" fill="#fff" stroke="#1a1a1a" stroke-width="1.2"/>
<line x1="328.40" y1="235.82" x2="330.20" y2="235.82" stroke="#222" stroke-width="0.7"/>
<line x1="328.40" y1="237.83" x2="330.20" y2="237.83" stroke="#222" stroke-width="0.7"/>
<line x1="328.40" y1="239.85" x2="330.20" y2="239.85" stroke="#222" stroke-width="0.7"/>
<line x1="328.40" y1="241.86" x2="330.20" y2="241.86" stroke="#222" stroke-width="0.7"/>
<line x1="327.40" y1="243.88" x2="330.20" y2="243.88" stroke="#222" stroke-width="0.7"/>
<line x1="328.40" y1="245.90" x2="330.20" y2="245.90" stroke="#222" stroke-width="0.7"/>
<line x1="328.40" y1="247.91" x2="330.20" y2="247.91" stroke="#222" stroke-width="0.7"/>
<line x1="328.40" y1="249.93" x2="330.20" y2="249.93" stroke="#222" stroke-width="0.7"/>
<line x1="328.40" y1="251.94" x2="330.20" y2="251.94" stroke="#222" stroke-width="0.7"/>
<line x1="327.40" y1="253.96" x2="330.20" y2="253.96" stroke="#222" stroke-width="0.7"/>
<line x1="328.40" y1="255.98" x2="330.20" y2="255.98" stroke="#222" stroke-width="0.7"/>
<line x1="328.40" y1="257.99" x2="330.20" y2="257.99" stroke="#222" stroke-width="0.7"/>
<line x1="328.40" y1="260.01" x2="330.20" y2="260.01" stroke="#222" stroke-width="0.7"/>
<line x1="328.40" y1="262.02" x2="330.20" y2="262.02" stroke="#222" stroke-width="0.7"/>
<line x1="327.40" y1="264.04" x2="330.20" y2="264.04" stroke="#222" stroke-width="0.7"/>
<line x1="328.40" y1="266.06" x2="330.20" y2="266.06" stroke="#222" stroke-width="0.7"/>
<line x1="328.40" y1="268.07" x2="330.20" y2="268.07" stroke="#222" stroke-width="0.7"/>
<line x1="328.40" y1="270.09" x2="330.20" y2="270.09" stroke="#222" stroke-width="0.7"/>
<line x1="328.40" y1="272.10" x2="330.20" y2="272.10" stroke="#222" stroke-width="0.7"/>
<line x1="327.40" y1="274.12" x2="330.20" y2="274.12" stroke="#222" stroke-width="0.7"/>
<line x1="328.40" y1="276.14" x2="330.20" y2="276.14" stroke="#222" stroke-width="0.7"/>
<line x1="328.40" y1="278.15" x2="330.20" y2="278.15" stroke="#222" stroke-width="0.7"/>
<line x1="328.40" y1="280.17" x2="330.20" y2="280.17" stroke="#222" stroke-width="0.7"/>
<line x1="328.40" y1="282.18" x2="330.20" y2="282.18" stroke="#222" stroke-width="0.7"/>
<line x1="332.50" y1="284.20" x2="332.50" y2="285.90" stroke="#222" stroke-width="0.6"/>
<line x1="333.60" y1="284.20" x2="333.60" y2="285.90" stroke="#222" stroke-width="0.6"/>
<line x1="334.60" y1="284.20" x2="334.60" y2="285.90" stroke="#222" stroke-width="0.6"/>
<line x1="335.50" y1="284.20" x2="335.50" y2="285.90" stroke="#222" stroke-width="0.6"/>
<line x1="336.30" y1="284.20" x2="336.30" y2="285.90" stroke="#222" stroke-width="0.6"/>
<line x1="337.00" y1="284.20" x2="337.00" y2="285.90" stroke="#222" stroke-width="0.6"/>
<line x1="341.80" y1="284.20" x2="341.80" y2="285.90" stroke="#222" stroke-width="0.6"/>
<line x1="345.00" y1="284.20" x2="345.00" y2="285.90" stroke="#222" stroke-width="0.6"/>
<line x1="347.20" y1="284.20" x2="347.20" y2="285.90" stroke="#222" stroke-width="0.6"/>
<line x1="349.00" y1="284.20" x2="349.00" y2="285.90" stroke="#222" stroke-width="0.6"/>
<line x1="350.40" y1="284.20" x2="350.40" y2="285.90" stroke="#222" stroke-width="0.6"/>
<line x1="351.60" y1="284.20" x2="351.60" y2="285.90" stroke="#222" stroke-width="0.6"/>
<line x1="352.60" y1="284.20" x2="352.60" y2="285.90" stroke="#222" stroke-width="0.6"/>
<line x1="353.50" y1="284.20" x2="353.50" y2="285.90" stroke="#222" stroke-width="0.6"/>
<line x1="359.50" y1="284.20" x2="359.50" y2="285.90" stroke="#222" stroke-width="0.6"/>
<line x1="362.60" y1="284.20" x2="362.60" y2="285.90" stroke="#222" stroke-width="0.6"/>
<line x1="364.80" y1="284.20" x2="364.80" y2="285.90" stroke="#222" stroke-width="0.6"/>
<line x1="366.60" y1="284.20" x2="366.60" y2="285.90" stroke="#222" stroke-width="0.6"/>
<line x1="368.00" y1="284.20" x2="368.00" y2="285.90" stroke="#222" stroke-width="0.6"/>
<line x1="369.20" y1="284.20" x2="369.20" y2="285.90" stroke="#222" stroke-width="0.6"/>
<line x1="370.20" y1="284.20" x2="370.20" y2="285.90" stroke="#222" stroke-width="0.6"/>
<line x1="371.00" y1="284.20" x2="371.00" y2="285.90" stroke="#222" stroke-width="0.6"/>
<line x1="377.00" y1="284.20" x2="377.00" y2="285.90" stroke="#222" stroke-width="0.6"/>
<line x1="380.00" y1="284.20" x2="380.00" y2="285.90" stroke="#222" stroke-width="0.6"/>
<line x1="337.60" y1="284.20" x2="337.60" y2="286.80" stroke="#111" stroke-width="0.7"/>
<line x1="354.30" y1="284.20" x2="354.30" y2="286.80" stroke="#111" stroke-width="0.7"/>
<line x1="371.80" y1="284.20" x2="371.80" y2="286.80" stroke="#111" stroke-width="0.7"/>
<polyline points="330.8,226.5 331.8,224.9 333.0,223.5 334.4,221.9 335.4,220.9 336.4,218.5 337.4,214.0 338.4,208.5 339.4,204.0 340.2,201.5 340.9,203.7 341.5,205.5 342.0,203.1 342.7,206.0 343.6,210.5 344.8,214.5 346.2,219.0 347.7,222.3 349.2,224.5 350.8,225.5 353.0,226.2 381.0,226.4" fill="none" stroke="#3e5fa0" stroke-width="0.8" stroke-linejoin="round"/>
<polyline points="330.8,226.5 333.0,225.7 334.6,224.5 336.2,222.9 337.6,220.5 338.8,217.0 340.0,211.5 341.0,206.5 342.0,202.0 342.8,199.9 343.6,201.9 344.6,202.3 345.4,205.5 346.4,209.0 347.4,211.9 348.5,213.7 349.5,213.1 350.3,212.7 351.2,215.5 352.2,219.5 353.8,223.1 355.0,225.1 356.4,226.1 381.0,226.4" fill="none" stroke="#b3123b" stroke-width="0.8" stroke-linejoin="round"/>
<polyline points="330.8,282.5 331.5,279.0 332.2,281.9 333.5,280.7 335.0,277.3 336.2,272.5 336.9,270.5 337.6,272.0 338.4,271.0 339.2,266.5 340.0,261.5 341.0,257.0 342.2,253.5 343.0,255.7 343.8,259.5 344.6,261.0 345.4,266.5 346.4,272.0 347.4,275.1 348.4,277.5 349.6,280.1 351.0,281.7 353.0,282.8 355.0,283.3 381.0,283.5" fill="none" stroke="#3e5fa0" stroke-width="0.8" stroke-linejoin="round"/>
<polyline points="330.8,282.7 331.4,280.5 332.2,282.3 333.8,280.3 335.4,277.0 336.8,273.5 338.0,269.5 339.0,263.5 339.8,258.5 340.6,256.5 341.3,258.1 341.9,257.1 342.8,259.7 343.6,260.3 344.3,260.5 345.0,265.5 346.0,271.0 347.0,274.5 348.2,277.0 349.4,280.1 350.6,281.9 352.5,282.7 355.0,283.3 381.0,283.5" fill="none" stroke="#b3123b" stroke-width="0.8" stroke-linejoin="round"/>
<text transform="translate(353.70 188.90)" font-size="7.5" style="fill:#34549c;stroke:#34549c;stroke-width:0.1px;">Ctrl</text>
<text transform="translate(353.70 197.70)" font-size="7.5" style="fill:#b3123b;stroke:#b3123b;stroke-width:0.1px;">TNFα</text>
<text transform="translate(322.00 202.00) rotate(-90) scale(0.66 1)" font-size="10" text-anchor="middle" style="stroke-width:0.3px;">WT</text>
<text transform="translate(321.80 276.00) rotate(-90) scale(0.73 1)" font-size="9.7" style="stroke-width:0.3px;">TNFR1/2<tspan dy="-3.4" font-size="7">-/-</tspan></text>
<text transform="translate(330.80 299.00) scale(0.785 1)" font-size="8.8" style="stroke-width:0.3px;">IL27Ra</text>
<line x1="356.20" y1="296.20" x2="378.00" y2="296.20" stroke="#1a1a1a" stroke-width="0.9"/>
<path d="M381 296.2 L375.4 293.8 L376.8 296.2 L375.4 298.6 Z" fill="#1a1a1a"/>
<text transform="translate(418.60 195.40) scale(1.09 1)" font-size="7.1" text-anchor="end">TNFα</text>
<text transform="translate(418.60 210.30) scale(1.02 1)" font-size="7.1" text-anchor="end">IKKi</text>
<text transform="translate(418.60 221.90)" font-size="7.1" text-anchor="end">ERKi</text>
<text transform="translate(430.00 195.10)" font-size="4.6" text-anchor="middle" style="fill:#3a3a3a;stroke:#3a3a3a;stroke-width:0.3px;">-</text>
<text transform="translate(446.20 195.40)" font-size="6.6" text-anchor="middle" style="fill:#3a3a3a;stroke:#3a3a3a;">+</text>
<text transform="translate(462.50 195.40)" font-size="6.6" text-anchor="middle" style="fill:#3a3a3a;stroke:#3a3a3a;">+</text>
<text transform="translate(479.10 195.40)" font-size="6.6" text-anchor="middle" style="fill:#3a3a3a;stroke:#3a3a3a;">+</text>
<text transform="translate(430.00 209.90)" font-size="4.6" text-anchor="middle" style="fill:#3a3a3a;stroke:#3a3a3a;stroke-width:0.3px;">-</text>
<text transform="translate(446.20 209.90)" font-size="4.6" text-anchor="middle" style="fill:#3a3a3a;stroke:#3a3a3a;stroke-width:0.3px;">-</text>
<text transform="translate(462.50 210.20)" font-size="6.6" text-anchor="middle" style="fill:#3a3a3a;stroke:#3a3a3a;">+</text>
<text transform="translate(479.10 209.90)" font-size="4.6" text-anchor="middle" style="fill:#3a3a3a;stroke:#3a3a3a;stroke-width:0.3px;">-</text>
<text transform="translate(430.00 221.70)" font-size="4.6" text-anchor="middle" style="fill:#3a3a3a;stroke:#3a3a3a;stroke-width:0.3px;">-</text>
<text transform="translate(446.20 221.70)" font-size="4.6" text-anchor="middle" style="fill:#3a3a3a;stroke:#3a3a3a;stroke-width:0.3px;">-</text>
<text transform="translate(462.50 221.70)" font-size="4.6" text-anchor="middle" style="fill:#3a3a3a;stroke:#3a3a3a;stroke-width:0.3px;">-</text>
<text transform="translate(479.10 222.00)" font-size="6.6" text-anchor="middle" style="fill:#3a3a3a;stroke:#3a3a3a;">+</text>
<svg x="421.20" y="226.60" width="66.90" height="18.80" viewBox="421.20 226.60 66.90 18.80">
<rect x="421.20" y="226.60" width="66.90" height="18.80" fill="#d4d4d4"/>
<rect x="423.00" y="223.00" width="10.00" height="26.00" rx="2.00" fill="#000" opacity="0.42" filter="url(#b10)"/>
<rect x="440.00" y="223.00" width="11.40" height="26.00" rx="2.00" fill="#000" opacity="0.62" filter="url(#b10)"/>
<rect x="457.10" y="223.00" width="11.40" height="26.00" rx="2.00" fill="#000" opacity="0.55" filter="url(#b10)"/>
<rect x="474.90" y="223.00" width="10.00" height="26.00" rx="2.00" fill="#000" opacity="0.25" filter="url(#b10)"/>
<rect x="423.10" y="230.00" width="3.00" height="10.00" rx="1.50" fill="#000" opacity="0.8" filter="url(#b10)"/>
<rect x="440.15" y="227.50" width="6.50" height="14.00" rx="3.25" fill="#000" opacity="0.8" filter="url(#b10)"/>
<rect x="457.50" y="231.60" width="9.00" height="8.00" rx="4.00" fill="#000" opacity="0.8" filter="url(#b10)"/>
<rect x="424.00" y="234.50" width="9.00" height="3.40" rx="1.70" fill="#000" opacity="0.28" filter="url(#b10)"/>
<rect x="440.95" y="233.10" width="10.50" height="5.00" rx="2.50" fill="#000" opacity="0.6" filter="url(#b10)"/>
<rect x="457.95" y="233.50" width="10.50" height="5.00" rx="2.50" fill="#000" opacity="0.5" filter="url(#b10)"/>
<rect x="475.75" y="233.40" width="8.50" height="2.40" rx="1.20" fill="#000" opacity="0.25" filter="url(#b10)"/>
<rect x="475.75" y="237.00" width="8.50" height="2.40" rx="1.20" fill="#000" opacity="0.25" filter="url(#b10)"/>
<rect x="425.00" y="239.20" width="8.00" height="2.60" rx="1.30" fill="#000" opacity="0.18" filter="url(#b10)"/>
</svg>
<rect x="421.82" y="227.22" width="65.65" height="17.55" fill="none" stroke="#2b2b2b" stroke-width="1.25"/>
<rect x="422.75" y="228.15" width="63.80" height="15.70" fill="none" stroke="#f4f4f4" stroke-width="0.6" opacity="0"/>
<svg x="421.20" y="246.90" width="66.90" height="18.90" viewBox="421.20 246.90 66.90 18.90">
<rect x="421.20" y="246.90" width="66.90" height="18.90" fill="#e4e4e4"/>
<rect x="423.40" y="254.90" width="3.60" height="3.40" rx="1.70" fill="#000" opacity="1" filter="url(#b5)"/>
<rect x="425.50" y="255.90" width="8.00" height="1.60" rx="0.80" fill="#000" opacity="0.5" filter="url(#b7)"/>
<rect x="432.40" y="255.80" width="2.00" height="2.00" rx="1.00" fill="#000" opacity="0.6" filter="url(#b5)"/>
<rect x="440.30" y="254.70" width="11.00" height="3.80" rx="1.90" fill="#000" opacity="1" filter="url(#b7)"/>
<rect x="457.90" y="255.00" width="11.00" height="3.20" rx="1.60" fill="#000" opacity="1" filter="url(#b7)"/>
<rect x="464.80" y="254.70" width="4.00" height="4.20" rx="2.00" fill="#000" opacity="1" filter="url(#b7)"/>
<rect x="475.30" y="255.80" width="2.60" height="2.40" rx="1.20" fill="#000" opacity="0.55" filter="url(#b7)"/>
<rect x="482.30" y="255.70" width="2.60" height="2.60" rx="1.30" fill="#000" opacity="0.6" filter="url(#b7)"/>
<rect x="477.00" y="256.50" width="6.00" height="1.40" rx="0.70" fill="#000" opacity="0.3" filter="url(#b7)"/>
</svg>
<rect x="421.82" y="247.52" width="65.65" height="17.65" fill="none" stroke="#2b2b2b" stroke-width="1.25"/>
<rect x="422.75" y="248.45" width="63.80" height="15.80" fill="none" stroke="#f4f4f4" stroke-width="0.6" opacity="0.45"/>
<ellipse cx="446.2" cy="256.8" rx="1.1" ry="1.3" fill="#e8e8e8" filter="url(#b3)"/>
<svg x="421.20" y="267.40" width="66.90" height="19.20" viewBox="421.20 267.40 66.90 19.20">
<rect x="421.20" y="267.40" width="66.90" height="19.20" fill="#e6e6e6"/>
<rect x="423.20" y="275.10" width="12.00" height="3.20" rx="1.60" fill="#000" opacity="1" filter="url(#b7)"/>
<rect x="439.40" y="274.90" width="12.00" height="3.20" rx="1.60" fill="#000" opacity="1" filter="url(#b7)"/>
<rect x="456.35" y="275.10" width="12.50" height="3.40" rx="1.70" fill="#000" opacity="1" filter="url(#b7)"/>
<rect x="472.55" y="275.40" width="12.50" height="4.00" rx="2.00" fill="#000" opacity="1" filter="url(#b7)"/>
</svg>
<rect x="421.82" y="268.02" width="65.65" height="17.95" fill="none" stroke="#2b2b2b" stroke-width="1.25"/>
<rect x="422.75" y="268.95" width="63.80" height="16.10" fill="none" stroke="#f4f4f4" stroke-width="0.6" opacity="0.45"/>
<text transform="translate(490.60 239.10)" font-size="7.1">IL27Ra</text>
<text transform="translate(490.60 259.20)" font-size="7.1">ETS1</text>
<text transform="translate(490.60 280.30) scale(1.1 1)" font-size="7.1">Actin</text>
<text transform="translate(38.60 340.60) scale(1.04 1)" font-size="7" text-anchor="middle">2000</text>
<text transform="translate(38.40 349.30) scale(1.02 1)" font-size="6.9" text-anchor="middle">IL27Ra<tspan dy="-2.4" font-size="4.6">+</tspan><tspan dy="2.4"> KSL</tspan></text>
<line x1="38.50" y1="355.20" x2="38.50" y2="361.40" stroke="#1a1a1a" stroke-width="1.1"/>
<path d="M38.50 365.00 L35.90 359.60 L38.50 361.00 L41.10 359.60 Z" fill="#1a1a1a"/>
<ellipse cx="38.50" cy="373.50" rx="10.00" ry="5.50" fill="#7d7d7d" stroke="#454545" stroke-width="1.15"/>
<ellipse cx="38.50" cy="372.00" rx="10.00" ry="5.30" fill="#c2c2c2" stroke="#454545" stroke-width="1.15"/>
<text transform="translate(25.00 389.00) scale(1.07 1)" font-size="6.9">± TNFα</text>
<text transform="translate(25.00 398.00) scale(1.06 1)" font-size="6.9">± ERKi</text>
<line x1="38.50" y1="406.20" x2="38.50" y2="415.90" stroke="#1a1a1a" stroke-width="1.1"/>
<path d="M38.50 419.50 L35.90 414.10 L38.50 415.50 L41.10 414.10 Z" fill="#1a1a1a"/>
<text transform="translate(42.70 415.10) scale(1.04 1)" font-size="6.9">48 h</text>
<text transform="translate(38.40 429.70) scale(1.03 1)" font-size="6.9" text-anchor="middle">Analysis</text>
<line x1="99.60" y1="340.20" x2="99.60" y2="426.20" stroke="#000" stroke-width="1.2"/>
<line x1="99.00" y1="425.60" x2="167.80" y2="425.60" stroke="#000" stroke-width="1.2"/>
<line x1="95.00" y1="425.80" x2="99.60" y2="425.80" stroke="#1a1a1a" stroke-width="1"/>
<text transform="translate(93.40 428.80) scale(0.94 1)" font-size="8.5" text-anchor="end">0</text>
<line x1="95.00" y1="405.20" x2="99.60" y2="405.20" stroke="#1a1a1a" stroke-width="1"/>
<text transform="translate(93.40 408.20) scale(0.94 1)" font-size="8.5" text-anchor="end">5</text>
<line x1="95.00" y1="384.60" x2="99.60" y2="384.60" stroke="#1a1a1a" stroke-width="1"/>
<text transform="translate(93.40 387.60) scale(0.94 1)" font-size="8.5" text-anchor="end">10</text>
<line x1="95.00" y1="364.00" x2="99.60" y2="364.00" stroke="#1a1a1a" stroke-width="1"/>
<text transform="translate(93.40 367.00) scale(0.94 1)" font-size="8.5" text-anchor="end">15</text>
<line x1="95.00" y1="343.40" x2="99.60" y2="343.40" stroke="#1a1a1a" stroke-width="1"/>
<text transform="translate(93.40 346.40) scale(0.94 1)" font-size="8.5" text-anchor="end">20</text>
<text transform="translate(79.00 383.00) rotate(-90) scale(0.86 1)" font-size="8.8" text-anchor="middle" style="stroke-width:0.3px;">% of IL27Ra<tspan dy="-3" font-size="6.5">+</tspan><tspan dy="3"> cells</tspan></text>
<circle cx="108.30" cy="411.60" r="1.35" fill="#213671"/>
<circle cx="112.70" cy="412.80" r="1.35" fill="#213671"/>
<circle cx="106.30" cy="415.00" r="1.35" fill="#213671"/>
<circle cx="115.20" cy="414.90" r="1.35" fill="#213671"/>
<circle cx="109.20" cy="417.60" r="1.35" fill="#213671"/>
<circle cx="112.00" cy="416.50" r="1.35" fill="#213671"/>
<circle cx="110.60" cy="414.60" r="1.35" fill="#213671"/>
<line x1="105.80" y1="414.90" x2="115.80" y2="414.90" stroke="#213671" stroke-width="1"/>
<line x1="110.80" y1="413.80" x2="110.80" y2="416.00" stroke="#213671" stroke-width="1"/>
<line x1="108.60" y1="413.80" x2="113.00" y2="413.80" stroke="#213671" stroke-width="1"/>
<line x1="108.60" y1="416.00" x2="113.00" y2="416.00" stroke="#213671" stroke-width="1"/>
<rect x="120.60" y="356.70" width="2.60" height="2.60" fill="#a10228"/>
<rect x="119.70" y="370.90" width="2.60" height="2.60" fill="#a10228"/>
<rect x="122.20" y="374.70" width="2.60" height="2.60" fill="#a10228"/>
<rect x="122.90" y="379.00" width="2.60" height="2.60" fill="#a10228"/>
<rect x="118.40" y="381.20" width="2.60" height="2.60" fill="#a10228"/>
<rect x="118.20" y="372.70" width="2.60" height="2.60" fill="#a10228"/>
<line x1="116.30" y1="373.80" x2="127.70" y2="373.80" stroke="#a10228" stroke-width="1"/>
<line x1="122.00" y1="370.30" x2="122.00" y2="377.30" stroke="#a10228" stroke-width="1"/>
<line x1="119.40" y1="370.30" x2="124.60" y2="370.30" stroke="#a10228" stroke-width="1"/>
<line x1="119.40" y1="377.30" x2="124.60" y2="377.30" stroke="#a10228" stroke-width="1"/>
<circle cx="140.60" cy="407.70" r="1.35" fill="#213671"/>
<circle cx="148.90" cy="409.20" r="1.35" fill="#213671"/>
<circle cx="143.50" cy="410.50" r="1.35" fill="#213671"/>
<circle cx="146.00" cy="410.80" r="1.35" fill="#213671"/>
<circle cx="147.00" cy="412.00" r="1.35" fill="#213671"/>
<circle cx="142.50" cy="415.30" r="1.35" fill="#213671"/>
<line x1="139.50" y1="410.00" x2="149.50" y2="410.00" stroke="#213671" stroke-width="1"/>
<line x1="144.50" y1="408.80" x2="144.50" y2="411.20" stroke="#213671" stroke-width="1"/>
<line x1="142.30" y1="408.80" x2="146.70" y2="408.80" stroke="#213671" stroke-width="1"/>
<line x1="142.30" y1="411.20" x2="146.70" y2="411.20" stroke="#213671" stroke-width="1"/>
<rect x="154.90" y="388.20" width="2.60" height="2.60" fill="#a10228"/>
<rect x="151.10" y="398.90" width="2.60" height="2.60" fill="#a10228"/>
<rect x="153.60" y="398.30" width="2.60" height="2.60" fill="#a10228"/>
<rect x="156.20" y="399.10" width="2.60" height="2.60" fill="#a10228"/>
<rect x="158.70" y="398.50" width="2.60" height="2.60" fill="#a10228"/>
<rect x="154.90" y="404.10" width="2.60" height="2.60" fill="#a10228"/>
<line x1="150.60" y1="400.00" x2="161.60" y2="400.00" stroke="#a10228" stroke-width="1"/>
<line x1="156.10" y1="397.80" x2="156.10" y2="402.20" stroke="#a10228" stroke-width="1"/>
<line x1="153.50" y1="397.80" x2="158.70" y2="397.80" stroke="#a10228" stroke-width="1"/>
<line x1="153.50" y1="402.20" x2="158.70" y2="402.20" stroke="#a10228" stroke-width="1"/>
<text transform="translate(110.60 435.00)" font-size="6.8" text-anchor="middle">-</text>
<text transform="translate(121.80 435.00)" font-size="6.8" text-anchor="middle">+</text>
<text transform="translate(145.00 435.00)" font-size="6.8" text-anchor="middle">-</text>
<text transform="translate(156.30 435.00)" font-size="6.8" text-anchor="middle">+</text>
<text transform="translate(171.70 435.20)" font-size="7">TNFa</text>
<line x1="101.60" y1="438.60" x2="129.10" y2="438.60" stroke="#6a6a6a" stroke-width="1.3"/>
<line x1="137.00" y1="438.60" x2="164.00" y2="438.60" stroke="#6a6a6a" stroke-width="1.3"/>
<text transform="translate(115.60 447.40)" font-size="7.6" text-anchor="middle">Ctrl</text>
<text transform="translate(150.60 447.40)" font-size="7.6" text-anchor="middle">ERKi</text>
<text transform="translate(101.80 351.60) scale(1.13 1)" font-size="6">p&lt; 0.0001</text>
<line x1="108.20" y1="353.90" x2="124.60" y2="353.90" stroke="#444" stroke-width="1.3"/>
<text transform="translate(125.50 338.10) scale(1.12 1)" font-size="6">p=0.0001</text>
<path d="M122 345 V341 H157.1 V368.9" fill="none" stroke="#444" stroke-width="1.3"/>
<text transform="translate(135.80 383.40) scale(1.12 1)" font-size="6">p=0.0010</text>
<line x1="141.30" y1="386.20" x2="157.80" y2="386.20" stroke="#444" stroke-width="1.3"/>
<text transform="translate(233.70 342.20) scale(1.08 1)" font-size="6.8" text-anchor="middle">±TNFα</text>
<text transform="translate(232.70 350.80) scale(1.1 1)" font-size="6.8" text-anchor="middle">5µg/mouse</text>
<g stroke="#1f1f1f" stroke-linejoin="round" stroke-linecap="round">
<path d="M212.4 369.3 c2.4 .2 4 -.6 4.9 -2.4 c.9 -1.9 1.6 -3.6 3.6 -3.9 c1.4 -.2 2.6 .1 3.7 .3" fill="none" stroke-width="1.25"/>
<path d="M240 361.4 l3.6 -2.6 M240.6 362.6 l4 -1.2 M240.6 364.8 l4 1.2 M240 366 l3.6 2.6 M240.4 363.7 h4.2" fill="none" stroke-width=".7"/>
<ellipse cx="240" cy="363.7" rx="2.5" ry="3" fill="#1f1f1f" stroke="none"/>
<ellipse cx="231.2" cy="363.7" rx="7" ry="6.4" fill="#808080" stroke-width="1"/>
<ellipse cx="235.4" cy="360.4" rx="2.7" ry="2.5" fill="#868686" stroke-width=".95"/>
<ellipse cx="235.4" cy="367" rx="2.7" ry="2.5" fill="#868686" stroke-width=".95"/>
</g>
<line x1="233.60" y1="375.00" x2="233.60" y2="381.70" stroke="#1a1a1a" stroke-width="1.1"/>
<path d="M233.60 385.30 L231.00 379.90 L233.60 381.30 L236.20 379.90 Z" fill="#1a1a1a"/>
<text transform="translate(238.70 384.30) scale(1.06 1)" font-size="6.9">4 days</text>
<line x1="233.60" y1="389.40" x2="233.60" y2="399.60" stroke="#1a1a1a" stroke-width="1.1"/>
<path d="M233.60 403.20 L231.00 397.80 L233.60 399.20 L236.20 397.80 Z" fill="#1a1a1a"/>
<text transform="translate(238.70 401.40) scale(1.06 1)" font-size="6.9">4 days</text>
<line x1="233.60" y1="406.40" x2="233.60" y2="416.80" stroke="#1a1a1a" stroke-width="1.1"/>
<path d="M233.60 420.40 L231.00 415.00 L233.60 416.40 L236.20 415.00 Z" fill="#1a1a1a"/>
<text transform="translate(238.70 418.70) scale(1.06 1)" font-size="6.9">4 days</text>
<text transform="translate(213.50 429.60) scale(1.09 1)" font-size="6.9">the 14<tspan dy="-2.6" font-size="5.2">th</tspan><tspan dy="2.6"> day</tspan></text>
<text transform="translate(233.60 438.40) scale(1.04 1)" font-size="6.8" text-anchor="middle">analysis</text>
<text transform="translate(301.20 365.40) rotate(-90)" font-size="6.8">PBS</text>
<text transform="translate(329.10 365.60) rotate(-90) scale(1.1 1)" font-size="6.8">TNFα</text>
<svg x="284.90" y="370.30" width="55.90" height="21.90" viewBox="284.90 370.30 55.90 21.90">
<rect x="284.90" y="370.30" width="55.90" height="21.90" fill="#e2e2e2"/>
<rect x="289.00" y="378.00" width="21.00" height="2.60" rx="1.30" fill="#000" opacity="0.2" filter="url(#b10)"/>
<rect x="289.00" y="381.20" width="21.00" height="2.40" rx="1.20" fill="#000" opacity="0.17" filter="url(#b10)"/>
<rect x="289.50" y="378.15" width="6.00" height="4.50" rx="2.25" fill="#000" opacity="0.14" filter="url(#b10)"/>
<rect x="288.50" y="376.80" width="22.00" height="8.00" rx="4.00" fill="#000" opacity="0.1" filter="url(#b14)"/>
<rect x="288.75" y="387.50" width="21.50" height="2.40" rx="1.20" fill="#000" opacity="0.32" filter="url(#b7)"/>
<rect x="316.50" y="376.90" width="21.00" height="8.60" rx="3.20" fill="#000" opacity="1" filter="url(#b10)"/>
<rect x="317.00" y="375.00" width="20.00" height="4.00" rx="2.00" fill="#000" opacity="0.35" filter="url(#b14)"/>
<rect x="316.50" y="387.50" width="21.40" height="3.40" rx="1.70" fill="#000" opacity="1" filter="url(#b7)"/>
<rect x="315.75" y="376.50" width="22.50" height="15.00" rx="3.00" fill="#000" opacity="0.2" filter="url(#b14)"/>
</svg>
<rect x="285.52" y="370.92" width="54.65" height="20.65" fill="none" stroke="#2b2b2b" stroke-width="1.25"/>
<rect x="286.45" y="371.85" width="52.80" height="18.80" fill="none" stroke="#f4f4f4" stroke-width="0.6" opacity="0.12"/>
<svg x="284.90" y="394.50" width="55.90" height="22.80" viewBox="284.90 394.50 55.90 22.80">
<rect x="284.90" y="394.50" width="55.90" height="22.80" fill="#e6e6e6"/>
<rect x="287.95" y="403.70" width="22.50" height="3.80" rx="1.90" fill="#000" opacity="1" filter="url(#b7)"/>
<rect x="316.00" y="403.80" width="22.00" height="3.60" rx="1.80" fill="#000" opacity="1" filter="url(#b7)"/>
<rect x="288.00" y="403.30" width="4.00" height="3.00" rx="1.50" fill="#000" opacity="0.8" filter="url(#b7)"/>
<rect x="306.50" y="403.30" width="4.00" height="3.00" rx="1.50" fill="#000" opacity="0.8" filter="url(#b7)"/>
<rect x="316.00" y="403.30" width="4.00" height="3.00" rx="1.50" fill="#000" opacity="0.8" filter="url(#b7)"/>
<rect x="334.00" y="403.30" width="4.00" height="3.00" rx="1.50" fill="#000" opacity="0.8" filter="url(#b7)"/>
</svg>
<rect x="285.52" y="395.12" width="54.65" height="21.55" fill="none" stroke="#2b2b2b" stroke-width="1.25"/>
<rect x="286.45" y="396.05" width="52.80" height="19.70" fill="none" stroke="#f4f4f4" stroke-width="0.6" opacity="0.45"/>
<text transform="translate(346.90 384.00)" font-size="7">IL27Ra</text>
<text transform="translate(346.90 408.20) scale(1.1 1)" font-size="7.1">Actin</text>
<line x1="427.50" y1="341.70" x2="427.50" y2="426.80" stroke="#000" stroke-width="1.2"/>
<line x1="426.90" y1="426.20" x2="468.80" y2="426.20" stroke="#000" stroke-width="1.2"/>
<line x1="423.70" y1="426.20" x2="427.50" y2="426.20" stroke="#1a1a1a" stroke-width="1"/>
<text transform="translate(422.40 429.20) scale(0.94 1)" font-size="8.5" text-anchor="end">0</text>
<line x1="423.70" y1="405.85" x2="427.50" y2="405.85" stroke="#1a1a1a" stroke-width="1"/>
<text transform="translate(422.40 408.85) scale(0.94 1)" font-size="8.5" text-anchor="end">20</text>
<line x1="423.70" y1="385.50" x2="427.50" y2="385.50" stroke="#1a1a1a" stroke-width="1"/>
<text transform="translate(422.40 388.50) scale(0.94 1)" font-size="8.5" text-anchor="end">40</text>
<line x1="423.70" y1="365.15" x2="427.50" y2="365.15" stroke="#1a1a1a" stroke-width="1"/>
<text transform="translate(422.40 368.15) scale(0.94 1)" font-size="8.5" text-anchor="end">60</text>
<line x1="423.70" y1="344.80" x2="427.50" y2="344.80" stroke="#1a1a1a" stroke-width="1"/>
<text transform="translate(422.40 347.80) scale(0.94 1)" font-size="8.5" text-anchor="end">80</text>
<line x1="438.00" y1="381.63" x2="438.00" y2="385.91" stroke="#1a1a1a" stroke-width="0.8"/>
<line x1="436.00" y1="381.63" x2="440.00" y2="381.63" stroke="#1a1a1a" stroke-width="0.8"/>
<rect x="433.00" y="385.70" width="10.00" height="40.00" fill="#2d497d"/>
<line x1="458.50" y1="365.35" x2="458.50" y2="368.20" stroke="#1a1a1a" stroke-width="0.8"/>
<line x1="456.50" y1="365.35" x2="460.50" y2="365.35" stroke="#1a1a1a" stroke-width="0.8"/>
<rect x="453.30" y="368.00" width="10.40" height="57.70" fill="#a10228"/>
<text transform="translate(435.00 355.80) scale(1.02 1)" font-size="6.3">P=0.0123</text>
<text transform="translate(438.00 439.60)" font-size="7.4" text-anchor="middle" style="stroke-width:0.2px;">PBS</text>
<text transform="translate(458.20 439.60) scale(1.06 1)" font-size="7.4" text-anchor="middle" style="stroke-width:0.2px;">TNFα</text>
<text transform="translate(407.30 384.00) rotate(-90) scale(0.86 1)" font-size="8.8" text-anchor="middle" style="stroke-width:0.3px;">percentage of IL27Ra<tspan dy="-3" font-size="6.5">+</tspan><tspan dy="3"> HSC</tspan></text>
<line x1="43.00" y1="481.80" x2="43.00" y2="566.90" stroke="#000" stroke-width="1.2"/>
<line x1="42.40" y1="566.30" x2="87.60" y2="566.30" stroke="#000" stroke-width="1.2"/>
<line x1="39.20" y1="566.30" x2="43.00" y2="566.30" stroke="#1a1a1a" stroke-width="1"/>
<text transform="translate(37.60 569.30) scale(0.92 1)" font-size="8.5" text-anchor="end">0</text>
<line x1="39.20" y1="538.90" x2="43.00" y2="538.90" stroke="#1a1a1a" stroke-width="1"/>
<text transform="translate(37.60 541.90) scale(0.92 1)" font-size="8.5" text-anchor="end">2</text>
<line x1="39.20" y1="511.50" x2="43.00" y2="511.50" stroke="#1a1a1a" stroke-width="1"/>
<text transform="translate(37.60 514.50) scale(0.92 1)" font-size="8.5" text-anchor="end">4</text>
<line x1="39.20" y1="484.10" x2="43.00" y2="484.10" stroke="#1a1a1a" stroke-width="1"/>
<text transform="translate(37.60 487.10) scale(0.92 1)" font-size="8.5" text-anchor="end">6</text>
<line x1="54.70" y1="566.30" x2="54.70" y2="569.30" stroke="#1a1a1a" stroke-width="1"/>
<line x1="76.50" y1="566.30" x2="76.50" y2="569.30" stroke="#1a1a1a" stroke-width="1"/>
<path d="M54.70 538.83 l1.76 3.19 h-3.52 Z" fill="#213671"/>
<path d="M51.90 544.73 l1.76 3.19 h-3.52 Z" fill="#213671"/>
<path d="M58.40 545.03 l1.76 3.19 h-3.52 Z" fill="#213671"/>
<path d="M54.70 547.73 l1.76 3.19 h-3.52 Z" fill="#213671"/>
<line x1="47.70" y1="545.60" x2="61.70" y2="545.60" stroke="#213671" stroke-width="1"/>
<line x1="54.70" y1="543.60" x2="54.70" y2="547.60" stroke="#213671" stroke-width="1"/>
<line x1="51.50" y1="543.60" x2="57.90" y2="543.60" stroke="#213671" stroke-width="1"/>
<line x1="51.50" y1="547.60" x2="57.90" y2="547.60" stroke="#213671" stroke-width="1"/>
<rect x="75.20" y="498.40" width="2.60" height="2.60" fill="#a10228"/>
<rect x="75.20" y="535.60" width="2.60" height="2.60" fill="#a10228"/>
<circle cx="76.50" cy="527.50" r="1.69" fill="#a10228"/>
<circle cx="76.50" cy="532.00" r="1.69" fill="#a10228"/>
<line x1="69.20" y1="524.40" x2="83.80" y2="524.40" stroke="#a10228" stroke-width="1"/>
<line x1="76.50" y1="516.10" x2="76.50" y2="532.70" stroke="#a10228" stroke-width="1"/>
<line x1="73.10" y1="516.10" x2="79.90" y2="516.10" stroke="#a10228" stroke-width="1"/>
<line x1="73.10" y1="532.70" x2="79.90" y2="532.70" stroke="#a10228" stroke-width="1"/>
<text transform="translate(54.80 579.80) scale(1.03 1)" font-size="8" text-anchor="middle">Young</text>
<text transform="translate(76.80 579.80) scale(1.05 1)" font-size="8" text-anchor="middle">Old</text>
<text transform="translate(53.00 490.80) scale(1.04 1)" font-size="6.4">p=0.0459</text>
<line x1="55.20" y1="493.30" x2="78.00" y2="493.30" stroke="#3a3a3a" stroke-width="1.3"/>
<text transform="translate(28.30 525.40) rotate(-90) scale(0.885 1)" font-size="8.8" text-anchor="middle" style="stroke-width:0.15px;">TNF-a ( ×10<tspan dy="-3" font-size="6.5">3</tspan><tspan dy="3"> pg/ml)</tspan></text>
</svg></body></html>
